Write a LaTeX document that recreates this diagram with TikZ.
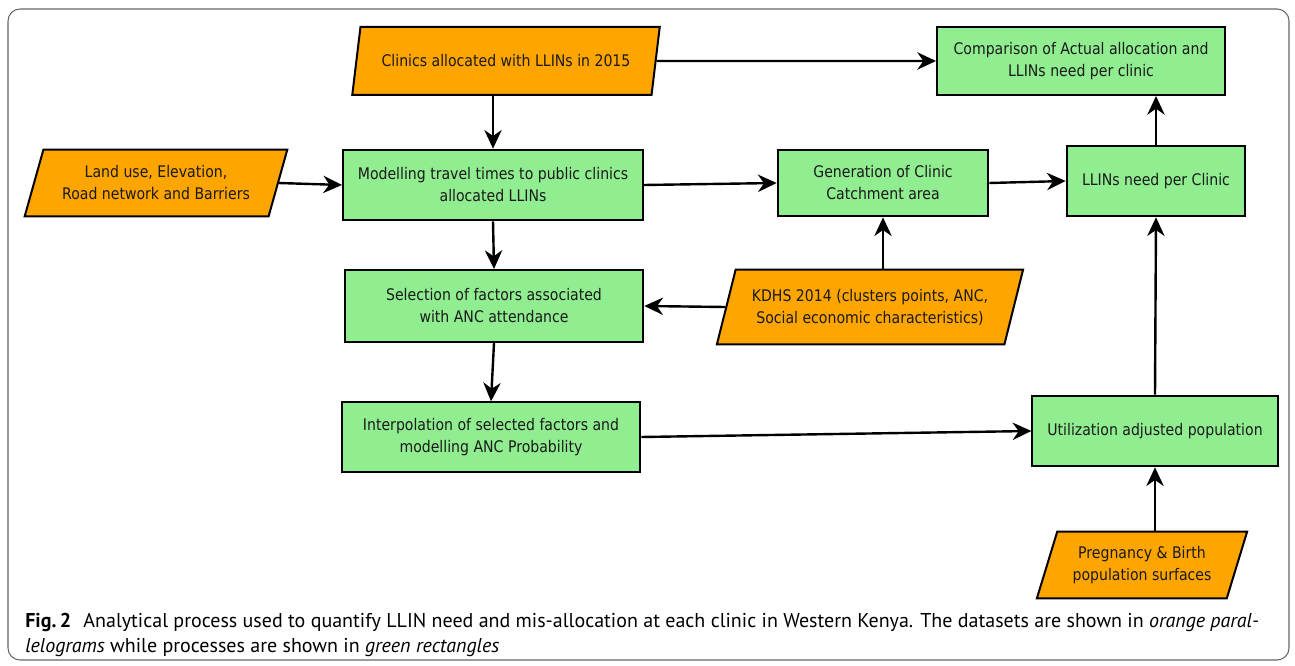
\documentclass[tikz,border=0pt]{standalone}
\usepackage{fontspec}
\setmainfont{DejaVu Sans}[FakeStretch=0.88]
\newfontfamily\capfont{PT Sans}
\usetikzlibrary{shapes.geometric,arrows.meta}

\definecolor{dataorange}{HTML}{FFA500}
\definecolor{procgreen}{HTML}{90EE90}
\definecolor{boxtext}{HTML}{1A1A1A}

\tikzset{
	dataset/.style={trapezium, trapezium left angle=68, trapezium right angle=112,
		trapezium stretches=true, draw, line width=1.5pt, fill=dataorange,
		text=boxtext, align=center, inner sep=2pt, font=\fontsize{12}{16.5}\selectfont},
	process/.style={rectangle, draw, line width=1.5pt, fill=procgreen,
		text=boxtext, align=center, inner sep=2pt, font=\fontsize{12}{16.5}\selectfont},
	flow/.style={-{Stealth[length=14pt,width=13pt,inset=4.5pt]}, line width=1.8pt},
	caption/.style={anchor=base west, inner sep=0pt, font=\capfont\fontsize{15}{18}\selectfont}
}

\begin{document}
\begin{tikzpicture}[x=0.75pt,y=-0.75pt]
		\useasboundingbox (0,0) rectangle (1295,666);
		% Frame round the figure
		\draw[gray!80!black, line width=0.8pt, rounded corners=9pt] (8,9) rectangle (1289,660);

		% Datasets
		\node[dataset, minimum width=231pt, minimum height=51pt] (clinics) at (506,61) {Clinics allocated with LLINs in 2015};
		\node[dataset, minimum width=197pt, minimum height=50pt] (land) at (156,183) {Land use, Elevation,\\Road network and Barriers};
		\node[dataset, minimum width=230pt, minimum height=56pt] (kdhs) at (870,307) {KDHS 2014 (clusters points, ANC,\\Social economic characteristics)};
		\node[dataset, minimum width=158pt, minimum height=50pt] (preg) at (1142,565) {Pregnancy \& Birth\\population surfaces};

		% Processes
		\node[process, minimum width=216pt, minimum height=51pt] (compare) at (1081,61) {Comparison of Actual allocation and\\LLINs need per clinic};
		\node[process, minimum width=225pt, minimum height=53pt] (travel) at (493,185) {Modelling travel times to public clinics\\allocated LLINs};
		\node[process, minimum width=158pt, minimum height=50pt] (catch) at (883,183) {Generation of Clinic\\Catchment area};
		\node[process, minimum width=134pt, minimum height=53pt] (need) at (1156,181) {LLINs need per Clinic};
		\node[process, minimum width=224pt, minimum height=54pt] (select) at (494,306) {Selection of factors associated\\with ANC attendance};
		\node[process, minimum width=224pt, minimum height=52pt] (interp) at (491,437) {Interpolation of selected factors and\\modelling ANC Probability};
		\node[process, minimum width=184pt, minimum height=53pt] (util) at (1155,431) {Utilization adjusted population};

		% Connecting arrows
		\draw[flow] (clinics.east) -- (compare.west);
		\draw[flow] (travel.north |- clinics.south) -- (travel.north);
		\draw[flow] (land.east) -- (travel.west);
		\draw[flow] (travel.east) -- (catch.west);
		\draw[flow] (catch.east) -- (need.west);
		\draw[flow] (need.north) -- (need.north |- compare.south);
		\draw[flow] (travel.south) -- (select.north);
		\draw[flow] (kdhs.west) -- (select.east);
		\draw[flow] (catch.south |- kdhs.north) -- (catch.south);
		\draw[flow] (select.south) -- (interp.north);
		\draw[flow] (interp.east) -- (util.west);
		\draw[flow] (util.north) -- (need.south);
		\draw[flow] (util.south |- preg.north) -- (util.south);

		% Caption
		\node[caption] (cap1) at (25,627) {\textbf{Fig.\,2}\hspace{0.35em} Analytical process used to quantify LLIN need and mis-allocation at each clinic in Western Kenya. The datasets are shown in \textit{orange paral-}};
		\node[caption] (cap2) at (25,652) {\textit{lelograms} while processes are shown in \textit{green rectangles}};
	\end{tikzpicture}
\end{document}
